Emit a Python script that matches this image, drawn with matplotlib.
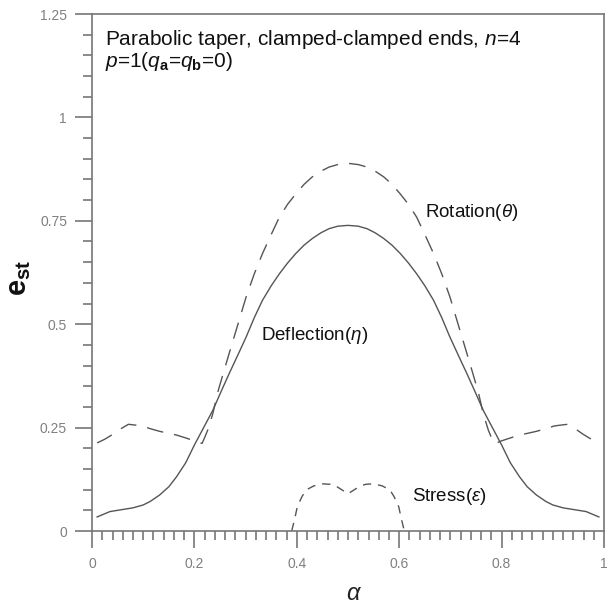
import numpy as np
import matplotlib
matplotlib.use('Agg')
import matplotlib.pyplot as plt
from matplotlib.ticker import MultipleLocator, FuncFormatter

plt.rcParams['font.family'] = ['Liberation Sans', 'DejaVu Sans']
plt.rcParams['mathtext.fontset'] = 'custom'
plt.rcParams['mathtext.rm'] = 'Liberation Sans'
plt.rcParams['mathtext.it'] = 'Liberation Sans:italic'
plt.rcParams['mathtext.bf'] = 'Liberation Sans:bold'

# Deflection (solid)
alpha_defl = [0.01, 0.035, 0.06, 0.08, 0.1, 0.113, 0.132, 0.15, 0.165, 0.183,
              0.2, 0.218, 0.236, 0.252, 0.268, 0.285, 0.301, 0.317, 0.333, 0.35,
              0.366, 0.382, 0.398, 0.414, 0.43, 0.447, 0.463, 0.48, 0.5,
              0.52, 0.537, 0.553, 0.57, 0.586, 0.602, 0.618, 0.634, 0.65, 0.667,
              0.683, 0.699, 0.715, 0.732, 0.748, 0.764, 0.782, 0.8, 0.817, 0.835,
              0.85, 0.868, 0.887, 0.9, 0.92, 0.94, 0.965, 0.99]
defl = [0.034, 0.047, 0.052, 0.056, 0.063, 0.071, 0.087, 0.107, 0.131, 0.165,
        0.208, 0.25, 0.292, 0.337, 0.381, 0.426, 0.469, 0.516, 0.558, 0.593,
        0.622, 0.648, 0.671, 0.691, 0.707, 0.721, 0.731, 0.737, 0.739,
        0.737, 0.731, 0.721, 0.707, 0.691, 0.671, 0.648, 0.622, 0.593, 0.558,
        0.516, 0.469, 0.426, 0.381, 0.337, 0.292, 0.25, 0.208, 0.165, 0.131,
        0.107, 0.087, 0.071, 0.063, 0.056, 0.052, 0.047, 0.034]

# Rotation (long dashes)
alpha_rot = [0.01, 0.025, 0.041, 0.056, 0.071, 0.085, 0.097, 0.115, 0.132, 0.15,
             0.165, 0.183, 0.2, 0.208, 0.215, 0.22, 0.226, 0.236, 0.245, 0.256,
             0.268, 0.285, 0.301, 0.317, 0.333, 0.35, 0.366, 0.382, 0.398, 0.414,
             0.43, 0.447, 0.463, 0.48, 0.5,
             0.52, 0.537, 0.553, 0.57, 0.586, 0.602, 0.618, 0.634, 0.65, 0.667,
             0.683, 0.699, 0.715, 0.732, 0.744, 0.755, 0.764, 0.774, 0.78, 0.785,
             0.792, 0.8, 0.817, 0.835, 0.85, 0.868, 0.885, 0.903, 0.915, 0.929,
             0.944, 0.959, 0.975, 0.99]
rot = [0.213, 0.222, 0.234, 0.247, 0.258, 0.256, 0.254, 0.247, 0.241, 0.236,
       0.232, 0.225, 0.218, 0.214, 0.212, 0.226, 0.244, 0.284, 0.333, 0.38,
       0.43, 0.5, 0.566, 0.622, 0.671, 0.717, 0.759, 0.79, 0.815, 0.838,
       0.856, 0.87, 0.88, 0.886, 0.889,
       0.886, 0.88, 0.87, 0.856, 0.838, 0.815, 0.79, 0.759, 0.717, 0.671,
       0.622, 0.566, 0.5, 0.43, 0.38, 0.333, 0.284, 0.244, 0.226, 0.212,
       0.214, 0.218, 0.225, 0.232, 0.236, 0.241, 0.247, 0.254, 0.256, 0.258,
       0.247, 0.234, 0.222, 0.213]

# Stress (short dashes)
alpha_str = [0.39, 0.396, 0.401, 0.41, 0.418, 0.433, 0.45, 0.465, 0.476, 0.49, 0.5,
             0.51, 0.524, 0.535, 0.55, 0.567, 0.582, 0.59, 0.599, 0.604, 0.61]
stress = [0.0, 0.03, 0.059, 0.083, 0.099, 0.109, 0.114, 0.113, 0.109, 0.098, 0.09,
          0.098, 0.109, 0.113, 0.114, 0.109, 0.099, 0.083, 0.059, 0.03, 0.0]

line_c = '#555555'
axis_c = '#777777'

fig = plt.figure(figsize=(6.07, 6.07), dpi=100)
ax = fig.add_axes([0.1516, 0.1252, 0.8435, 0.8517])

ax.plot(alpha_defl, defl, color=line_c, lw=1.0)
ax.plot(alpha_rot, rot, color=line_c, lw=1.0, dashes=(12, 8))
ax.plot(alpha_str, stress, color=line_c, lw=1.0, dashes=(6, 5))

ax.set_xlim(0, 1)
ax.set_ylim(0, 1.25)
ax.xaxis.set_major_locator(MultipleLocator(0.2))
ax.xaxis.set_minor_locator(MultipleLocator(0.02))
ax.yaxis.set_major_locator(MultipleLocator(0.25))
ax.yaxis.set_minor_locator(MultipleLocator(0.05))
fmt = FuncFormatter(lambda v, p: '%g' % round(v, 3))
ax.xaxis.set_major_formatter(fmt)
ax.yaxis.set_major_formatter(fmt)

for s in ax.spines.values():
    s.set_color(axis_c)
    s.set_linewidth(1.2)
ax.tick_params(which='both', direction='out', color=axis_c, width=1.2,
               labelcolor='#808080', labelsize=10)
ax.tick_params(which='major', length=12)
ax.tick_params(which='minor', length=6.5)
ax.tick_params(axis='y', which='major', pad=6)
ax.tick_params(axis='x', which='major', pad=7)

ax.text(0.025, 1.174, 'Parabolic taper, clamped-clamped ends, $n$=4',
        fontsize=15, va='baseline', color='#111111')
ax.text(0.025, 1.123, r'$p$=1($q_{\mathbf{a}}$=$q_{\mathbf{b}}$=0)',
        fontsize=15, va='baseline', color='#111111')

ax.text(0.65, 0.77, r'Rotation($\theta$)', fontsize=13.5, va='center', color='#111111')
ax.text(0.33, 0.473, r'Deflection($\eta$)', fontsize=13.5, va='center', color='#111111')
ax.text(0.624, 0.083, r'Stress($\varepsilon$)', fontsize=13.5, va='center', color='#111111')

fig.text(354 / 607, 1 - 594 / 607, r'$\alpha$', fontsize=17, ha='center', va='center',
         color='#222222')
fig.text(19 / 607, 1 - 278 / 607, r'$\mathbf{e}_{\mathbf{st}}$', fontsize=21,
         rotation=90, ha='center', va='center', color='#111111')

fig.savefig('out.png', dpi=100)
